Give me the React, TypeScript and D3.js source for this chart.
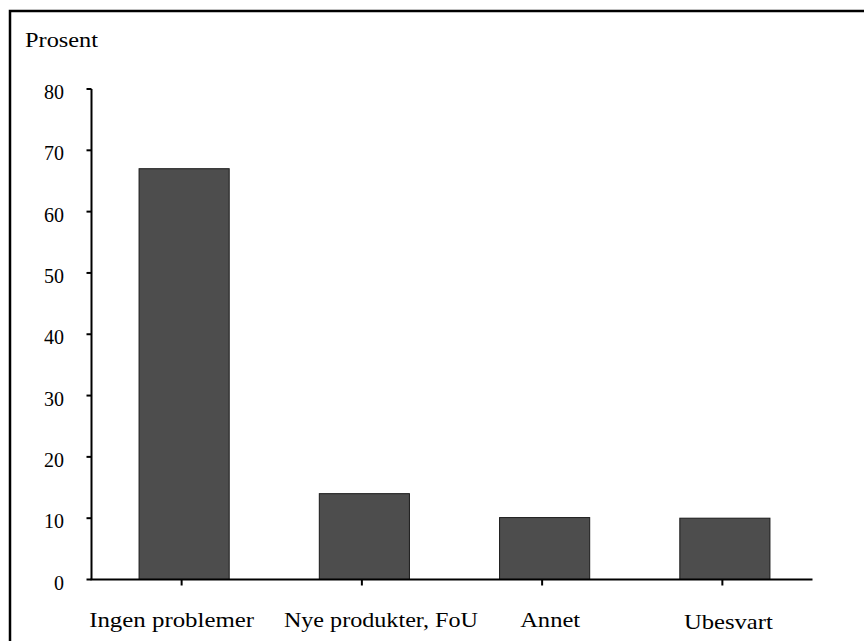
import React, { useEffect, useRef } from "react";
import * as d3 from "d3";

const categories = ["Ingen problemer", "Nye produkter, FoU", "Annet", "Ubesvart"];
const values = [67, 14, 10.1, 10];
const yTicks = [0, 10, 20, 30, 40, 50, 60, 70, 80];
const yLabel = "Prosent";

// Category label layout: horizontal shift from the tick and set text width
const labelShift = [-10, 19, 8, 6];
const labelWidth = [165, 194, 60, 89];

const W = 864;
const H = 641;
const FONT = "'Liberation Serif', 'Times New Roman', serif";

export default function App() {
  const ref = useRef<SVGSVGElement>(null);

  useEffect(() => {
    const svg = d3.select(ref.current);
    svg.selectAll("*").remove();

    const left = 91.5;
    const right = 812.5;
    const top = 89;
    const bottom = 579.5;

    const x = d3.scaleBand<string>().domain(categories).range([left, right]).paddingInner(0.5).paddingOuter(0.25);
    const y = d3.scaleLinear().domain([0, 80]).range([bottom, top]);
    const cx = (d: string) => x(d)! + x.bandwidth() / 2;

    // outer frame
    svg.append("rect")
      .attr("x", 10).attr("y", 11)
      .attr("width", W + 20).attr("height", H + 20)
      .attr("fill", "white").attr("stroke", "black").attr("stroke-width", 2.5);

    // bars, nudged slightly right of the tick marks
    svg.append("g").selectAll("rect")
      .data(values)
      .join("rect")
      .attr("x", (_, i) => x(categories[i])! + 2.5)
      .attr("width", x.bandwidth())
      .attr("y", (d) => y(d))
      .attr("height", (d) => bottom - y(d))
      .attr("fill", "#4d4d4d")
      .attr("stroke", "#1a1a1a")
      .attr("stroke-width", 1);

    const text = (sel: any, size: number) =>
      sel.attr("font-family", FONT).attr("font-size", size).attr("fill", "black");

    // y axis
    const ya = svg.append("g");
    ya.append("line")
      .attr("x1", left).attr("x2", left)
      .attr("y1", y(80)).attr("y2", bottom)
      .attr("stroke", "black").attr("stroke-width", 2);
    ya.selectAll("line.tick")
      .data(yTicks)
      .join("line")
      .attr("class", "tick")
      .attr("x1", left - 5).attr("x2", left)
      .attr("y1", (d) => y(d)).attr("y2", (d) => y(d))
      .attr("stroke", "black").attr("stroke-width", 2);
    ya.selectAll("text")
      .data(yTicks)
      .join("text")
      .attr("x", 64)
      .attr("y", (d) => y(d) + 10)
      .attr("text-anchor", "end")
      .call(text, 20)
      .text((d) => String(d));

    // x axis
    const xa = svg.append("g");
    xa.append("line")
      .attr("x1", left - 1).attr("x2", right)
      .attr("y1", bottom).attr("y2", bottom)
      .attr("stroke", "black").attr("stroke-width", 2);
    xa.selectAll("line.tick")
      .data(categories)
      .join("line")
      .attr("class", "tick")
      .attr("x1", cx)
      .attr("x2", cx)
      .attr("y1", bottom).attr("y2", bottom + 6)
      .attr("stroke", "black").attr("stroke-width", 2);
    xa.selectAll("text")
      .data(categories)
      .join("text")
      .attr("x", (d, i) => cx(d) + labelShift[i] - labelWidth[i] / 2)
      .attr("y", (_, i) => (i === 3 ? 629 : 627))
      .attr("textLength", (_, i) => labelWidth[i])
      .attr("lengthAdjust", "spacingAndGlyphs")
      .call(text, 21)
      .text((d) => d);

    svg.append("text")
      .attr("x", 25).attr("y", 47)
      .attr("textLength", 73)
      .attr("lengthAdjust", "spacingAndGlyphs")
      .call(text, 20)
      .text(yLabel);
  }, []);

  return (
    <svg
      ref={ref}
      width={W}
      height={H}
      style={{ position: "absolute", left: 0, top: 0, background: "white" }}
    />
  );
}
